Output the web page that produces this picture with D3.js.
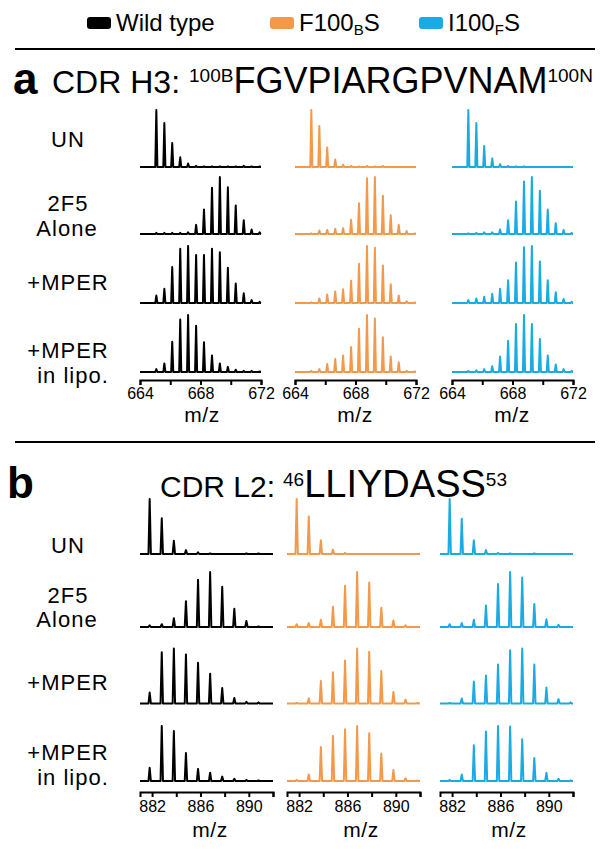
<!DOCTYPE html>
<html>
<head>
<meta charset="utf-8">
<script src="https://cdn.jsdelivr.net/npm/d3@7"></script>
<style>
body { margin: 0; background: #fff; }
svg text { font-family: "Liberation Sans", Arial, Helvetica, sans-serif; fill: #000; }
</style>
</head>
<body>
<div id="svgHolder"></div>
<script>
//*************
// HDX spectra, 2F5 CDR H3 and CDR L2 peptides
//*************

var rowLabels = [["UN"], ["2F5", "Alone"], ["+MPER"], ["+MPER", "in lipo."]];
var variantColors = ["#000000", "#f2994b", "#1aabe4"];

// isotope peak positions (m/z)
var mzH3 = [665.08, 665.61, 666.13, 666.66, 667.18, 667.71, 668.23, 668.76, 669.28, 669.81, 670.33, 670.86, 671.38, 671.91];
var mzL2 = [881.8, 882.8, 883.8, 884.8, 885.8, 886.8, 887.8, 888.8, 889.8, 890.8, 891.8];

var ticksH3 = [664, 666, 668, 670, 672];
var tickLabelsH3 = [664, 668, 672];
var ticksL2 = [882, 884, 886, 888, 890, 892];
var tickLabelsL2 = [882, 886, 890];

// relative intensities, rows: UN, 2F5 alone, +MPER, +MPER in lipo.
var h3WildType = [
	[100, 77, 42, 17, 6, 2, 1, 1, 1, 1, 1, 2, 1, 1],
	[2, 2, 2, 2, 3, 16, 43, 81, 100, 82, 50, 24, 8, 3],
	[13, 25, 63, 95, 100, 84, 84, 95, 89, 62, 34, 17, 5, 2],
	[5, 15, 53, 92, 100, 81, 52, 29, 15, 9, 4, 2, 2, 1]
];
var h3F100BS = [
	[100, 72, 34, 13, 4, 2, 1, 2, 1, 2, 0, 0, 0, 0],
	[1, 6, 7, 9, 10, 25, 54, 98, 100, 67, 33, 16, 5, 1],
	[1, 8, 15, 20, 24, 39, 69, 100, 97, 66, 33, 13, 3, 1],
	[2, 5, 14, 23, 29, 44, 76, 100, 94, 61, 27, 17, 2, 1]
];
var h3I100FS = [
	[100, 77, 37, 15, 5, 2, 1, 1, 0, 0, 0, 0, 0, 0],
	[1, 2, 3, 3, 8, 24, 57, 92, 100, 76, 43, 19, 7, 2],
	[5, 8, 11, 16, 25, 40, 71, 98, 100, 73, 40, 19, 7, 2],
	[2, 3, 5, 10, 27, 55, 84, 100, 84, 58, 29, 13, 5, 2]
];

var l2WildType = [
	[100, 65, 24, 7, 3, 1, 0, 0, 1, 1, 0],
	[3, 5, 16, 47, 86, 100, 73, 33, 11, 1, 0],
	[20, 93, 100, 89, 74, 54, 28, 10, 3, 2, 0],
	[24, 100, 91, 51, 22, 15, 8, 4, 2, 1, 0]
];
var l2F100BS = [
	[100, 68, 25, 8, 2, 0, 0, 0, 0, 0, 0],
	[5, 7, 13, 37, 75, 100, 81, 35, 12, 3, 0],
	[1, 9, 41, 57, 78, 100, 94, 59, 21, 7, 1],
	[2, 12, 62, 82, 94, 100, 87, 50, 20, 5, 1]
];
var l2I100FS = [
	[100, 64, 25, 7, 2, 1, 0, 1, 0, 0, 0],
	[5, 7, 13, 39, 78, 100, 90, 42, 14, 4, 0],
	[1, 9, 40, 51, 71, 97, 100, 71, 29, 8, 2],
	[2, 12, 65, 90, 100, 99, 76, 42, 15, 4, 1]
];

var panels = [
	{
		mz: mzH3, series: [h3WildType, h3F100BS, h3I100FS],
		domain: [664, 672], ticks: ticksH3, tickLabels: tickLabelsH3,
		cols: [[140, 261], [295, 416], [452, 573]],
		base: [167, 234, 303, 372], peakH: 57, halfWidth: 0.07,
		axisY: 380, tickPad: 3, mzX: [202, 355, 512], mzY: 422,
		labelY: [[147], [211, 236], [290], [358, 383]]
	},
	{
		mz: mzL2, series: [l2WildType, l2F100BS, l2I100FS],
		domain: [881, 892], ticks: ticksL2, tickLabels: tickLabelsL2,
		cols: [[140, 273], [287, 420], [440, 573]],
		base: [554, 627, 703.5, 781], peakH: 55, halfWidth: 0.1,
		axisY: 792, tickPad: 4, mzX: [210, 361, 509], mzY: 837,
		labelY: [[553], [603, 627], [690], [760, 785]]
	}
];
var labelX = [[68], [68, 67], [68], [68, 73]];

var svg = d3.select("#svgHolder").append("svg")
	.attr("width", 602)
	.attr("height", 849);

// legend
var legend = [
	{x: 87, main: "Wild type", sub: "", tail: ""},
	{x: 270, main: "F100", sub: "B", tail: "S"},
	{x: 419, main: "I100", sub: "F", tail: "S"}
];
legend.forEach(function(l, i) {
	svg.append("rect")
		.attr("x", l.x).attr("y", 17)
		.attr("width", 24).attr("height", 12)
		.attr("rx", 3)
		.attr("fill", variantColors[i]);
	var t = svg.append("text")
		.attr("x", l.x + 29).attr("y", 31)
		.attr("font-size", 24);
	t.append("tspan").text(l.main);
	if (l.sub) {
		t.append("tspan").attr("font-size", 15).attr("dy", 4).text(l.sub);
		t.append("tspan").attr("dy", -4).text(l.tail);
	}
});

svg.append("line").attr("x1", 15).attr("x2", 595).attr("y1", 49).attr("y2", 49)
	.attr("stroke", "#000").attr("stroke-width", 2);
svg.append("line").attr("x1", 15).attr("x2", 595).attr("y1", 442).attr("y2", 442)
	.attr("stroke", "#000").attr("stroke-width", 2);

// panel titles
function title(letter, lx, x, y, head, headSize, gap, pre, seq, post, seqSize) {
	svg.append("text").attr("x", lx).attr("y", y + 1)
		.attr("font-size", 44).attr("font-weight", "bold").text(letter);
	var t = svg.append("text").attr("x", x).attr("y", y).attr("font-size", headSize);
	t.append("tspan").text(head);
	t.append("tspan").attr("font-size", 19).attr("dx", gap).attr("dy", -11).text(pre);
	t.append("tspan").attr("font-size", seqSize).attr("dy", 11).text(seq);
	t.append("tspan").attr("font-size", 19).attr("dy", -11).text(post);
}
title("a", 13, 52, 93, "CDR H3:", 32, 9, "100B", "FGVPIARGPVNAM", "100N", 36);
title("b", 7, 160, 497, "CDR L2:", 30, 8, "46", "LLIYDASS", "53", 38);

panels.forEach(function(p) {

	// row labels
	rowLabels.forEach(function(lines, r) {
		lines.forEach(function(s, k) {
			svg.append("text")
				.attr("x", labelX[r][k]).attr("y", p.labelY[r][k])
				.attr("text-anchor", "middle")
				.attr("font-size", 22)
				.attr("letter-spacing", 1)
				.text(s);
		});
	});

	p.cols.forEach(function(c, j) {
		var x = d3.scaleLinear().domain(p.domain).range(c);

		p.base.forEach(function(b, r) {
			var y = d3.scaleLinear().domain([0, 100]).range([b, b - p.peakH]);
			var pts = [{mz: p.domain[0], v: 0}];
			p.mz.forEach(function(m, i) {
				pts.push({mz: m - p.halfWidth, v: 0});
				pts.push({mz: m, v: p.series[j][r][i]});
				pts.push({mz: m + p.halfWidth, v: 0});
			});
			pts.push({mz: p.domain[1], v: 0});

			var line = d3.line()
				.x(function(d) { return x(d.mz); })
				.y(function(d) { return y(d.v); });

			svg.append("path")
				.attr("d", line(pts))
				.attr("fill", "none")
				.attr("stroke", variantColors[j])
				.attr("stroke-width", 2)
				.attr("stroke-linejoin", "round");
		});

		var axis = d3.axisBottom(x)
			.tickValues(p.ticks)
			.tickSizeOuter(0)
			.tickSize(5)
			.tickPadding(p.tickPad)
			.tickFormat(function(d) { return p.tickLabels.indexOf(d) >= 0 ? d : ""; });

		var g = svg.append("g")
			.attr("transform", "translate(0," + p.axisY + ")")
			.call(axis);
		g.select(".domain").attr("stroke-width", 2);
		g.selectAll(".tick line").attr("stroke-width", 2);
		g.selectAll(".tick text")
			.attr("font-size", 16)
			.attr("font-family", "Liberation Sans, Arial, sans-serif")
			.attr("fill", "#000");

		svg.append("text")
			.attr("x", p.mzX[j]).attr("y", p.mzY)
			.attr("text-anchor", "middle")
			.attr("font-size", 21)
			.attr("letter-spacing", 0.5)
			.text("m/z");
	});
});
</script>
</body>
</html>
